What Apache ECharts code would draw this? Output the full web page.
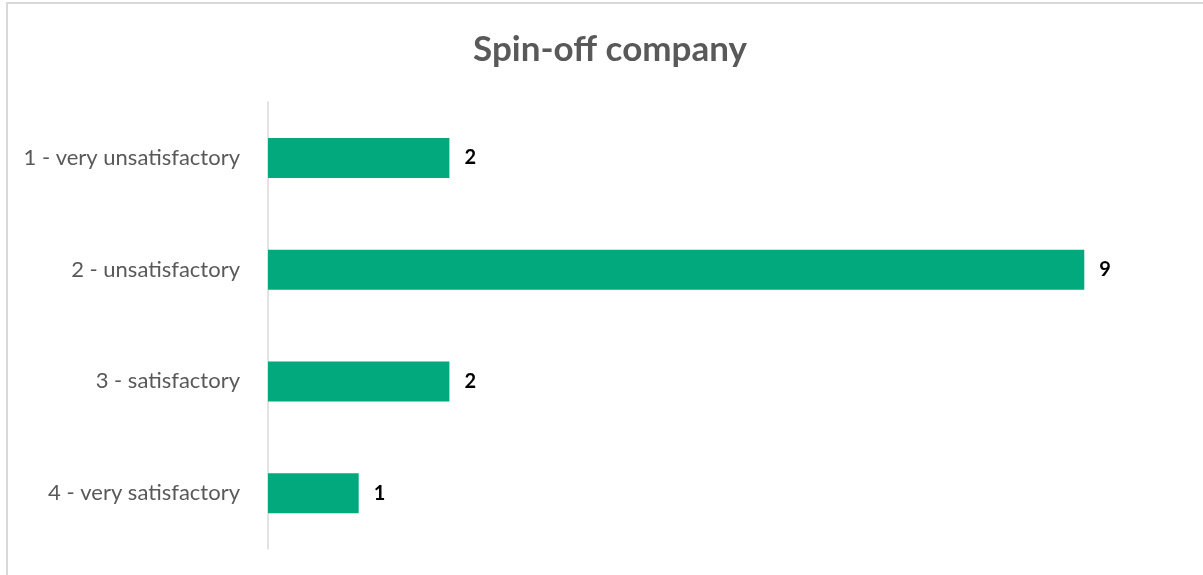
<!DOCTYPE html>
<html>
<head>
<meta charset="utf-8">
<script src="https://cdn.jsdelivr.net/npm/echarts@6/dist/echarts.min.js"></script>
<style>
  html, body { margin: 0; padding: 0; background: #ffffff; }
  #chart { width: 1203px; height: 575px; }
</style>
</head>
<body>
<div id="chart"></div>
<script>
// Survey answers about the spin-off company
const chartTitle = 'Spin-off company';
const categories = ['1 - very unsatisfactory', '2 - unsatisfactory', '3 - satisfactory', '4 - very satisfactory'];
const counts = [2, 9, 2, 1];

const chart = echarts.init(document.getElementById('chart'), null, { renderer: 'canvas' });

chart.setOption({
  backgroundColor: '#ffffff',
  animation: false,
  title: {
    text: chartTitle,
    left: 605,
    textAlign: 'center',
    top: 27,
    textStyle: {
      fontFamily: 'Lato',
      fontWeight: 'bold',
      fontSize: 35,
      color: '#595959'
    }
  },
  // chart-area frame
  graphic: [{
    type: 'rect',
    shape: { x: 7, y: 3, width: 1210, height: 590 },
    style: { fill: 'none', stroke: '#d9d9d9', lineWidth: 2 },
    silent: true
  }],
  grid: { left: 268, right: 28, top: 102, bottom: 26, containLabel: false },
  xAxis: {
    type: 'value',
    min: 0,
    max: 10,
    show: false
  },
  yAxis: {
    type: 'category',
    data: categories,
    inverse: true,
    axisLine: { show: true, lineStyle: { color: '#d9d9d9', width: 1.5 } },
    axisTick: { show: false },
    axisLabel: {
      margin: 28,
      fontFamily: 'Lato',
      fontSize: 22,
      color: '#595959'
    }
  },
  series: [{
    type: 'bar',
    data: counts,
    barWidth: 40,
    itemStyle: { color: '#02a97d' },
    label: {
      show: true,
      position: 'right',
      distance: 15,
      fontFamily: 'Lato',
      fontWeight: 'bold',
      fontSize: 20,
      color: '#000000'
    }
  }]
});
</script>
</body>
</html>
